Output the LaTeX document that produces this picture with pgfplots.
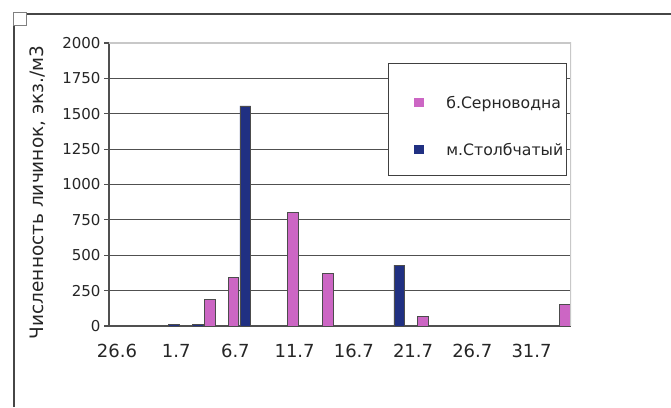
\documentclass[border=0pt]{standalone}
\usepackage{pgfplots}
\pgfplotsset{compat=1.18}
\usepackage{fontspec}
\setmainfont{DejaVu Sans}
\definecolor{pinkbar}{RGB}{204,102,196}
\definecolor{bluebar}{RGB}{32,48,130}
\definecolor{gridc}{RGB}{80,80,80}
\definecolor{framec}{RGB}{70,70,70}
\definecolor{lightb}{RGB}{200,200,200}
\pgfplotsset{sqleg/.style={legend image code/.code={\path[##1,draw=none] (0pt,-4.5pt) rectangle (10pt,4.5pt); \path (-22pt,-16pt) (10pt,30pt);}}}
\begin{document}
\begin{tikzpicture}[x=1pt,y=1pt]
\path[use as bounding box] (0,0) rectangle (671,407);
\fill[white] (0,0) rectangle (671,407);
\draw[framec, line width=1.5pt] (14,0) -- (14,393) -- (671,393);
\draw[gray, line width=1pt, fill=white] (13,381) rectangle (26,394);
\begin{axis}[
  at={(109pt,81pt)}, anchor=south west,
  scale only axis, width=462pt, height=283pt,
  xmin=-0.5, xmax=38.5, ymin=0, ymax=2000,
  ybar,
  axis x line*=bottom, axis y line*=left,
  axis line style={gridc, line width=1.2pt, -},
  ytick={0,250,...,2000},
  ymajorgrids, grid style={gridc, line width=1.2pt},
  xtick={0,5,...,35},
  xticklabels={26.6,1.7,6.7,11.7,16.7,21.7,26.7,31.7},
  xtick style={draw=none},
  ytick style={gridc, line width=1.2pt},
  major tick length=5pt, tick align=outside,
  scaled y ticks=false,
  /pgf/number format/assume math mode=true,
  /pgf/number format/1000 sep={},
  ticklabel style={font=\fontsize{15}{17}\selectfont, text=black!85},
  xticklabel style={yshift=-10pt, xshift=2pt, font=\fontsize{18}{20}\selectfont},
  ylabel={Численность личинок, экз./м3},
  ylabel style={at={(axis description cs:-0.154,0.472)}, anchor=center, font=\fontsize{18.5}{20}\selectfont, text=black!85},
  legend cell align=left,
  legend style={at={(rel axis cs:0.604,0.929)}, anchor=north west,
    draw=black!75, fill=white, line width=1pt,
    inner xsep=3pt, inner ysep=9pt, row sep=0pt,
    nodes={inner sep=0pt},
    font=\fontsize{15.7}{18}\selectfont, text=black!85,
    /tikz/every odd column/.append style={column sep=22pt}},
]
\addplot[fill=pinkbar, draw=black!70, line width=0.8pt, bar width=0.9, bar shift=0pt, sqleg]
  coordinates {(8,190) (10,340) (15,800) (18,370) (26,65) (38,155)};
\addlegendentry{б.Серноводна}
\addplot[fill=bluebar, draw=black!70, line width=0.8pt, bar width=0.9, bar shift=0pt, sqleg]
  coordinates {(5,10) (7,10) (11,1555) (24,430)};
\addlegendentry{м.Столбчатый}
\draw[lightb, line width=1.4pt] (rel axis cs:0,1) -- (rel axis cs:1,1) -- (rel axis cs:1,0);
\end{axis}
\end{tikzpicture}
\end{document}
